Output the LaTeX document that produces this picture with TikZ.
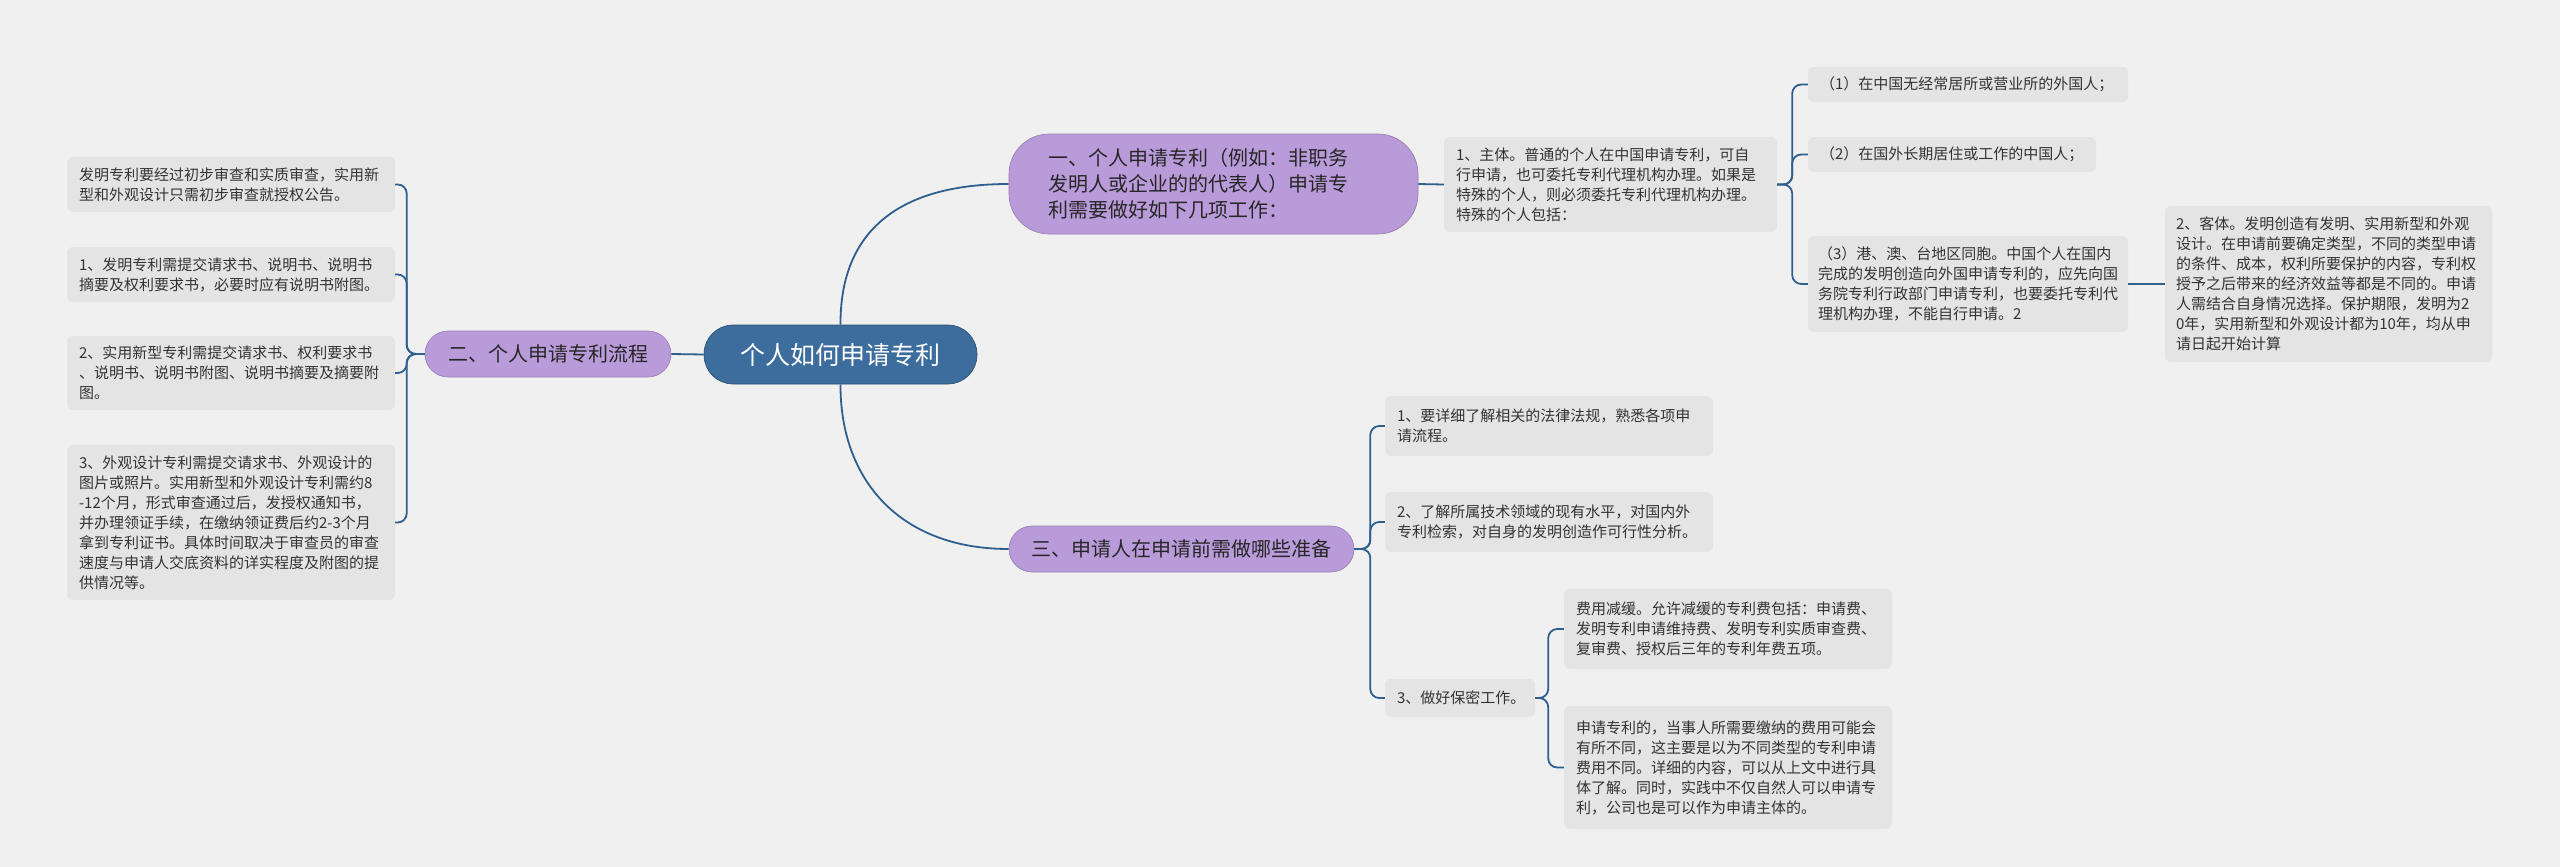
\documentclass[tikz,border=0pt]{standalone}
\usepackage{fontspec}
\newfontfamily\cjk{Noto Sans CJK SC}
\definecolor{bg}{HTML}{F0F0F0}
\definecolor{leafgray}{HTML}{E4E4E4}
\definecolor{linec}{HTML}{2F5F8E}
\definecolor{purp}{HTML}{B99BDA}
\definecolor{cent}{HTML}{3C6D9D}
\begin{document}
\begin{tikzpicture}[x=1pt,y=-1pt,
  leaf/.style={fill=leafgray,rounded corners=6pt,align=left,inner sep=0pt,font=\cjk\fontsize{15}{20}\selectfont,text=black!80},
  purpbox/.style={fill=purp,draw=purp!80!black,line width=0.6pt,align=left,inner sep=0pt,font=\cjk\fontsize{20}{26}\selectfont,text=black!85},
  conn/.style={draw=linec,line width=1.8pt,rounded corners=9pt}]
\fill[bg] (0,0) rectangle (2560,867);
\useasboundingbox (0,0) rectangle (2560,867);
% center
\node[fill=cent,draw=cent!70!black,line width=0.6pt,rounded corners=29pt,minimum width=273,minimum height=59,text=white,font=\cjk\fontsize{25}{30}\selectfont] (C) at (840.5,354.5) {个人如何申请专利};
\node[purpbox,rounded corners=40pt,minimum width=409,minimum height=100,text width=330] (B1) at (1213.5,184) {一、个人申请专利（例如：非职务\\发明人或企业的的代表人）申请专\\利需要做好如下几项工作：};
\node[purpbox,rounded corners=23pt,minimum width=246,minimum height=46,align=center] (B2) at (548,354) {二、个人申请专利流程};
\node[purpbox,rounded corners=23pt,minimum width=345,minimum height=46,align=center] (B3) at (1181.5,549) {三、申请人在申请前需做哪些准备};
% left leaves
\node[leaf,minimum width=328,minimum height=55,text width=304] (L1) at (231,184.5) {发明专利要经过初步审查和实质审查，实用新\\型和外观设计只需初步审查就授权公告。};
\node[leaf,minimum width=328,minimum height=55,text width=304] (L2) at (231,274.5) {1、发明专利需提交请求书、说明书、说明书\\摘要及权利要求书，必要时应有说明书附图。};
\node[leaf,minimum width=328,minimum height=74,text width=304] (L3) at (231,373) {2、实用新型专利需提交请求书、权利要求书\\、说明书、说明书附图、说明书摘要及摘要附\\图。};
\node[leaf,minimum width=328,minimum height=155,text width=304] (L4) at (231,522.5) {3、外观设计专利需提交请求书、外观设计的\\图片或照片。实用新型和外观设计专利需约8\\-12个月，形式审查通过后，发授权通知书，\\并办理领证手续，在缴纳领证费后约2-3个月\\拿到专利证书。具体时间取决于审查员的审查\\速度与申请人交底资料的详实程度及附图的提\\供情况等。};
% right upper
\node[leaf,minimum width=333,minimum height=95,text width=309] (R1) at (1610.5,184.5) {1、主体。普通的个人在中国申请专利，可自\\行申请，也可委托专利代理机构办理。如果是\\特殊的个人，则必须委托专利代理机构办理。\\特殊的个人包括：};
\node[leaf,minimum width=320,minimum height=35,text width=296] (P1) at (1968,84.5) {（1）在中国无经常居所或营业所的外国人；};
\node[leaf,minimum width=288,minimum height=35,text width=264] (P2) at (1952,154.5) {（2）在国外长期居住或工作的中国人；};
\node[leaf,minimum width=320,minimum height=96,text width=300] (P3) at (1968,284) {（3）港、澳、台地区同胞。中国个人在国内\\完成的发明创造向外国申请专利的，应先向国\\务院专利行政部门申请专利，也要委托专利代\\理机构办理，不能自行申请。2};
\node[leaf,minimum width=327,minimum height=156,text width=305] (K) at (2328.5,284) {2、客体。发明创造有发明、实用新型和外观\\设计。在申请前要确定类型，不同的类型申请\\的条件、成本，权利所要保护的内容，专利权\\授予之后带来的经济效益等都是不同的。申请\\人需结合自身情况选择。保护期限，发明为2\\0年，实用新型和外观设计都为10年，均从申\\请日起开始计算};
% right lower
\node[leaf,minimum width=328,minimum height=60,text width=304] (I1) at (1549,426) {1、要详细了解相关的法律法规，熟悉各项申\\请流程。};
\node[leaf,minimum width=328,minimum height=60,text width=304] (I2) at (1549,522) {2、了解所属技术领域的现有水平，对国内外\\专利检索，对自身的发明创造作可行性分析。};
\node[leaf,minimum width=150,minimum height=38,text width=126] (I3) at (1460,698) {3、做好保密工作。};
\node[leaf,minimum width=328,minimum height=80,text width=304] (F1) at (1728,629) {费用减缓。允许减缓的专利费包括：申请费、\\发明专利申请维持费、发明专利实质审查费、\\复审费、授权后三年的专利年费五项。};
\node[leaf,minimum width=328,minimum height=123,text width=304] (F2) at (1728,767.5) {申请专利的，当事人所需要缴纳的费用可能会\\有所不同，这主要是以为不同类型的专利申请\\费用不同。详细的内容，可以从上文中进行具\\体了解。同时，实践中不仅自然人可以申请专\\利，公司也是可以作为申请主体的。};
% connectors
\draw[conn] (C.north) .. controls (840,230) and (900,184) .. (B1.west);
\draw[conn] (C.south) .. controls (840,480) and (900,549) .. (B3.west);
\draw[conn] (C.west) -- (B2.east);
\foreach \n in {L1,L2,L3,L4}{\draw[conn] (B2.west) -- ++(-18,0) |- (\n.east);}
\draw[conn] (B1.east) -- (R1.west);
\foreach \n in {P1,P2,P3}{\draw[conn] (R1.east) -- ++(15,0) |- (\n.west);}
\draw[conn] (P3.east) -- (K.west);
\foreach \n in {I1,I2,I3}{\draw[conn] (B3.east) -- ++(16,0) |- (\n.west);}
\foreach \n in {F1,F2}{\draw[conn] (I3.east) -- ++(13,0) |- (\n.west);}
\end{tikzpicture}
\end{document}
